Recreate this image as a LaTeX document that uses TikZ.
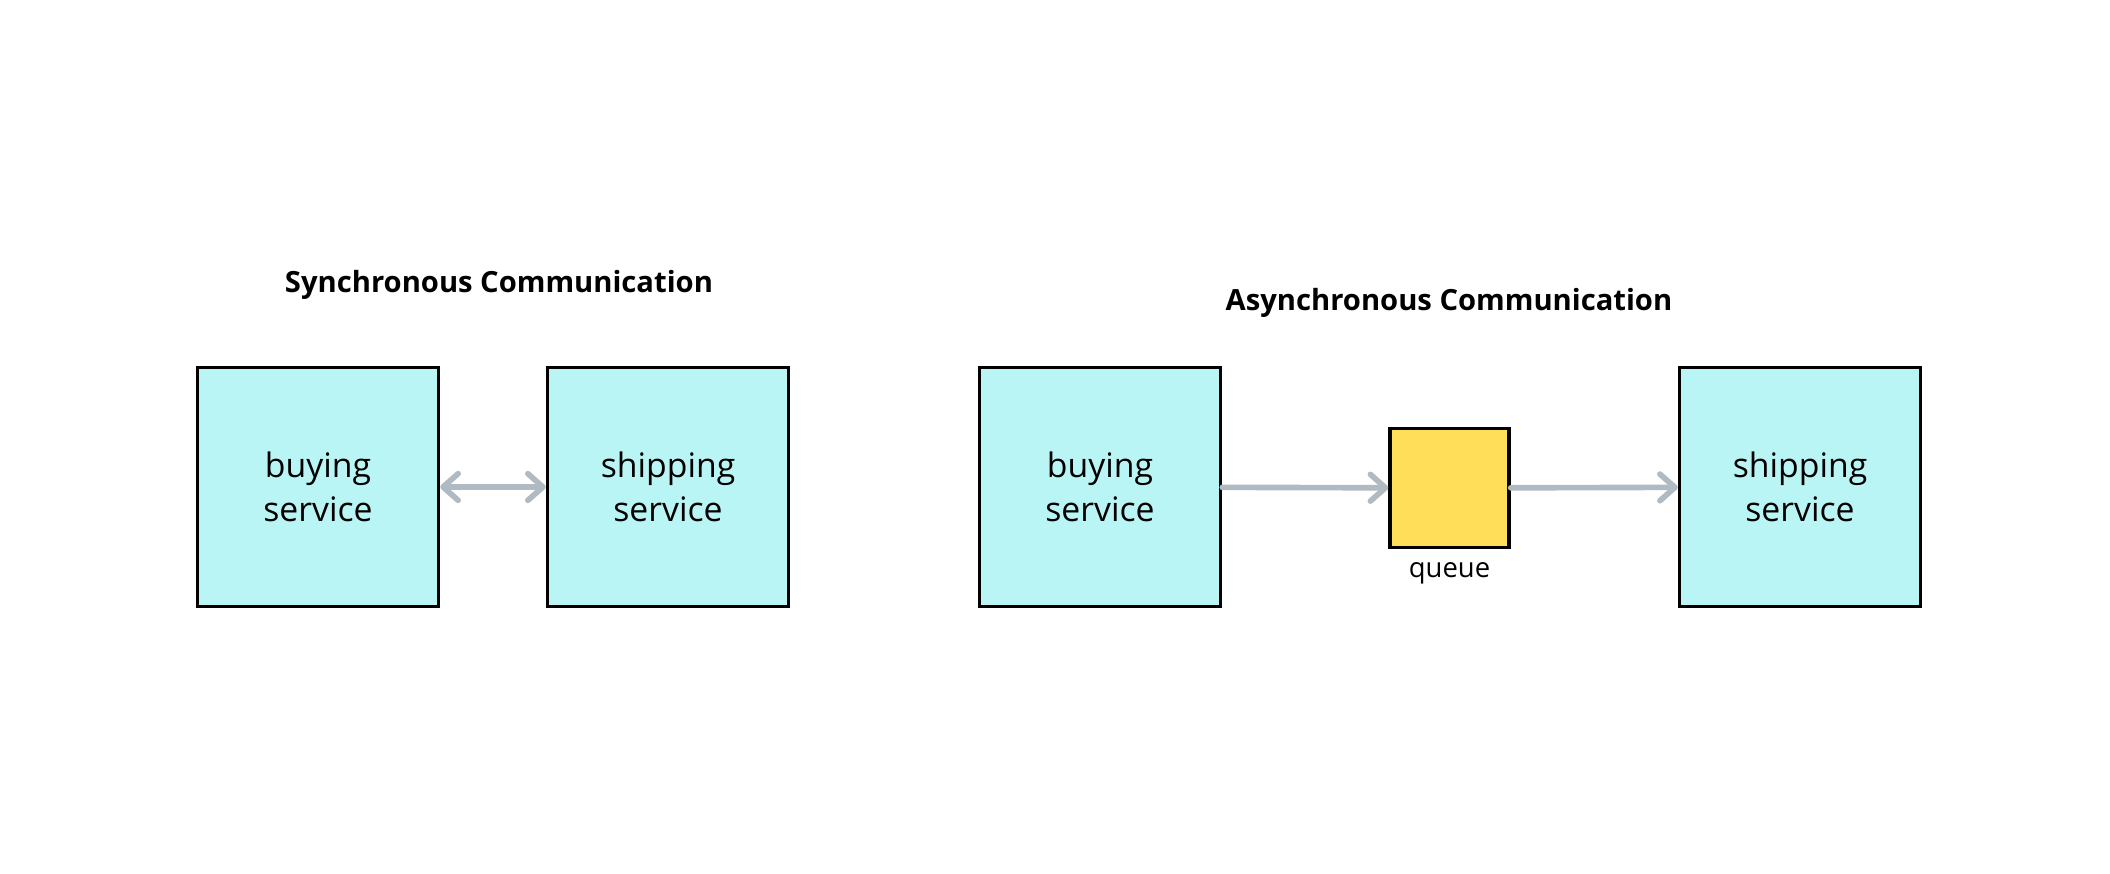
\documentclass[tikz,border=0pt]{standalone}
\usepackage{fontspec}
\setmainfont{Open Sans}
\usetikzlibrary{arrows.meta}

\definecolor{svcfill}{HTML}{B9F5F5}
\definecolor{qfill}{HTML}{FFDE59}
\definecolor{arrgray}{HTML}{AFBAC2}

\begin{document}
\begin{tikzpicture}[x=0.01cm, y=-0.01cm]
                \tikzstyle{svc}=[rectangle, draw, line width=0.95pt, fill=svcfill, minimum width=2.41cm, minimum height=2.39cm, align=center, font=\fontsize{9.6}{12.5}\selectfont]
                \tikzstyle{que}=[rectangle, draw, line width=0.95pt, fill=qfill, minimum size=1.19cm, inner sep=0pt]
                \tikzstyle{title}=[font=\fontsize{8.3}{10}\selectfont\bfseries]
                \tikzstyle{link}=[draw=arrgray, line width=1.6pt, line cap=round, -{Straight Barb[length=4.3pt, width=7.6pt, round]}]

                \useasboundingbox (0,0) rectangle (2110,874);

                % synchronous
                \node[title] (tsync) at (499,285) {Synchronous Communication};
                \node[svc] (buy1) at (318,487) {buying\\service};
                \node[svc] (ship1) at (668,487) {shipping\\service};
                \draw[link, {Straight Barb[length=4.3pt, width=7.6pt, round]}-{Straight Barb[length=4.3pt, width=7.6pt, round]}] (buy1) -- (ship1);

                % asynchronous
                \node[title] (tasync) at (1449,303) {Asynchronous Communication};
                \node[svc] (buy2) at (1100,487) {buying\\service};
                \node[que, label={[font=\fontsize{7.8}{9}\selectfont, inner sep=3.5pt]below:queue}] (queue) at (1449.5,488) {};
                \node[svc] (ship2) at (1800,487) {shipping\\service};
                \draw[link] (buy2) -- (queue);
                \draw[link] (queue) -- (ship2);
            \end{tikzpicture}
\end{document}
